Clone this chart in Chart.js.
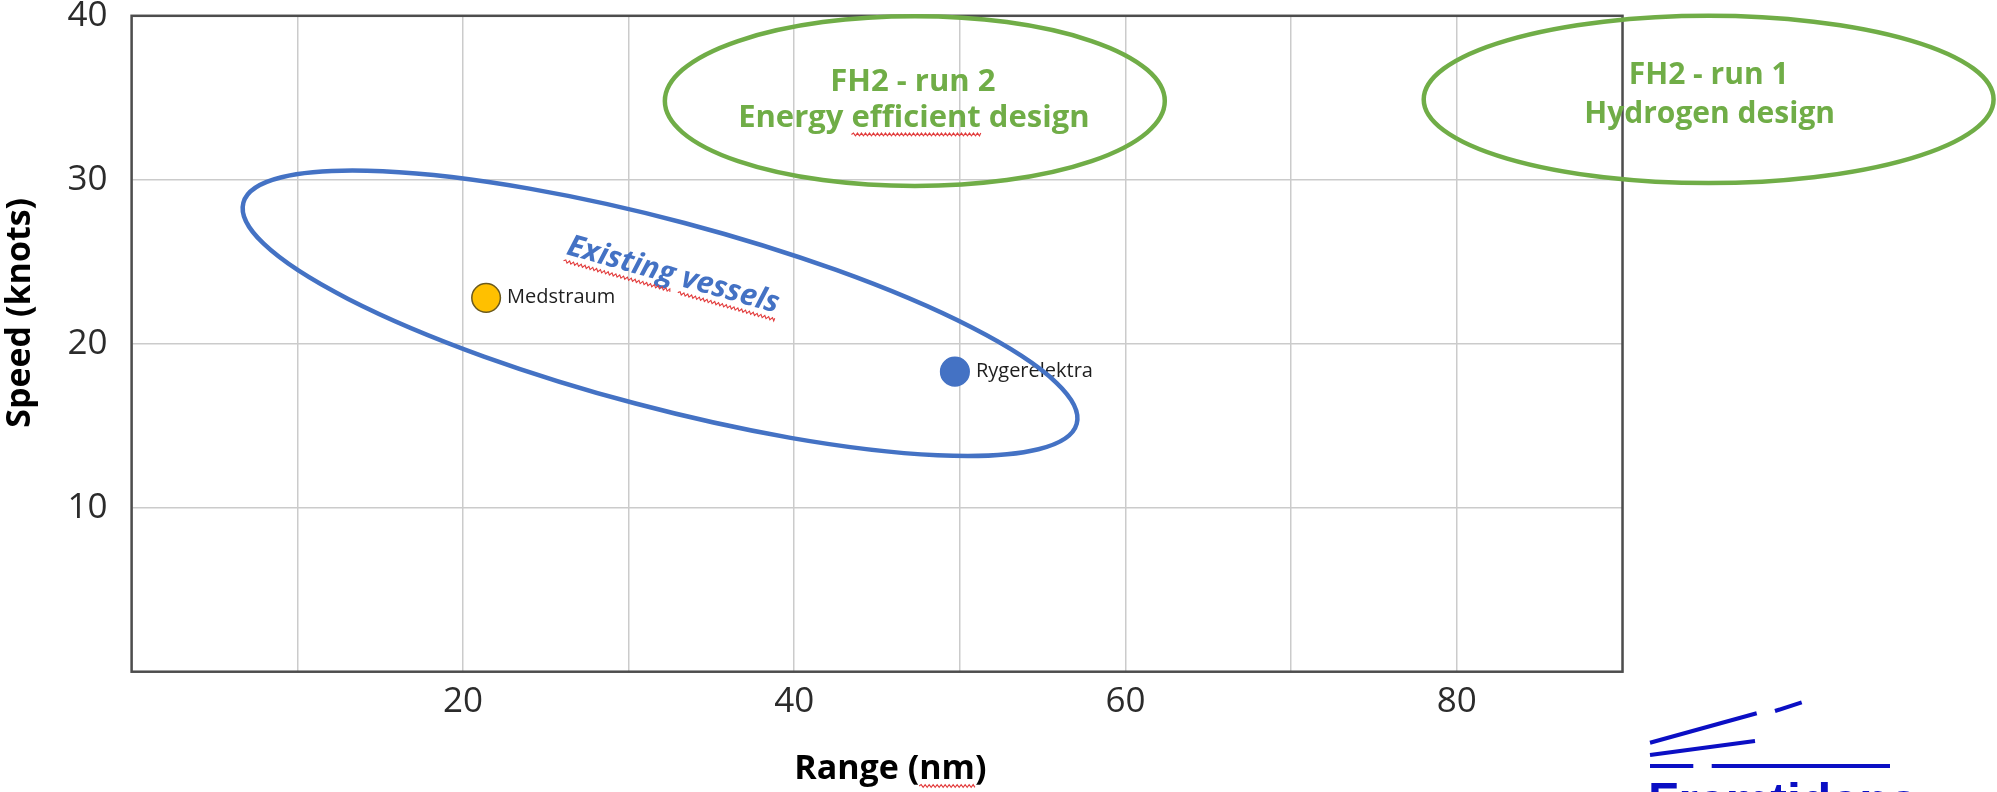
<!DOCTYPE html>
<html>
<head>
<meta charset="utf-8">
<script src="https://cdn.jsdelivr.net/npm/chart.js@4.4.1/dist/chart.umd.min.js"></script>
<style>
  html, body { margin: 0; padding: 0; background: #ffffff; overflow: hidden; }
  #wrap { position: relative; width: 1997px; height: 792px; }
  #logo { position: absolute; left: 0; top: 0; pointer-events: none; }
</style>
</head>
<body>
<div id="wrap">
  <canvas id="chart" width="1997" height="792"></canvas>
  <svg id="logo" width="1997" height="792" xmlns="http://www.w3.org/2000/svg">
    <g stroke="#0b0fc4" stroke-width="4" stroke-linecap="butt">
      <line x1="1650" y1="742.7" x2="1756.7" y2="713.3"/>
      <line x1="1775" y1="711" x2="1801.7" y2="702.3"/>
      <line x1="1650" y1="755" x2="1755" y2="741"/>
      <line x1="1650" y1="766" x2="1693.3" y2="766"/>
      <line x1="1711.7" y1="766" x2="1890" y2="766"/>
    </g>
    <text x="1648" y="818" fill="#0b0fc4" font-family="Liberation Sans, Arial, sans-serif" font-weight="bold" font-size="50">Fremtidens</text>
  </svg>
</div>
<script>
// ---------------- data ----------------
const vesselNames = ['Medstraum', 'Rygerelektra'];
const rangeNm = [21.4, 49.7];
const speedKnots = [22.8, 18.3];

const xTickLabels = ['20', '40', '60', '80'];
const yTickLabels = ['10', '20', '30', '40'];
const xAxisTitle = 'Range (nm)';
const yAxisTitle = 'Speed (knots)';

// highlighted regions (ellipses in data units: range nm / speed knots)
const regionCenterRange = [31.9, 47.28, 95.2];
const regionCenterSpeed = [21.86, 34.8, 34.9];
const regionHalfRange = [26.04, 15.09, 17.2];
const regionHalfSpeed = [5.70, 5.18, 5.1];
const regionTilt = [-15, 0, 0];
const regionLines = [
  ['Existing vessels'],
  ['FH2 - run 2', 'Energy efficient design'],
  ['FH2 - run 1', 'Hydrogen design']
];
const regionLineRange = [[32.55], [47.16, 47.22], [95.2, 95.26]];
const regionLineSpeed = [[23.68], [35.4, 33.19], [35.85, 33.44]];

// ---------------- styles ----------------
const vesselColors = ['#FFC000', '#4472C4'];
const vesselBorderColors = ['#6B5A1E', '#4472C4'];
const regionStyles = [
  { stroke: '#4472C4', color: '#4472C4', font: 'italic bold 30px "Open Sans"', textRot: -15.6, wavy: ['Existing', 'vessels'] },
  { stroke: '#70AD47', color: '#70AD47', font: 'bold 31px "Open Sans"', textRot: 0, wavy: ['efficient'] },
  { stroke: '#70AD47', color: '#70AD47', font: 'bold 30px "Open Sans"', textRot: 0, wavy: [] }
];
const SPELL_RED = '#e23b3b';

function wavy(ctx, x0, x1, y) {
  ctx.save();
  ctx.strokeStyle = SPELL_RED;
  ctx.lineWidth = 1.1;
  ctx.beginPath();
  ctx.moveTo(x0, y);
  let up = true;
  for (let x = x0; x < x1; x += 2) {
    ctx.lineTo(Math.min(x + 2, x1), y + (up ? -1.4 : 1.4));
    up = !up;
  }
  ctx.stroke();
  ctx.restore();
}

const framePlugin = {
  id: 'frame',
  beforeDatasetsDraw(chart) {
    const { ctx, chartArea: a } = chart;
    ctx.save();
    ctx.strokeStyle = '#4d4d4d';
    ctx.lineWidth = 2.5;
    ctx.strokeRect(a.left, a.top, a.right - a.left, a.bottom - a.top);
    ctx.restore();
  }
};

const pointLabelPlugin = {
  id: 'pointLabels',
  afterDatasetsDraw(chart) {
    const { ctx } = chart;
    const meta = chart.getDatasetMeta(0);
    ctx.save();
    ctx.font = '20px "Open Sans"';
    ctx.fillStyle = '#1e1e1e';
    ctx.textAlign = 'left';
    ctx.textBaseline = 'middle';
    meta.data.forEach((pt, i) => {
      ctx.fillText(vesselNames[i], pt.x + 21, pt.y - 0.5);
    });
    ctx.restore();
  }
};

const regionPlugin = {
  id: 'regions',
  afterDraw(chart) {
    const { ctx, scales: { x, y } } = chart;
    const sx = x.getPixelForValue(1) - x.getPixelForValue(0);
    const sy = y.getPixelForValue(0) - y.getPixelForValue(1);
    regionCenterRange.forEach((cr, i) => {
      const st = regionStyles[i];
      // ellipse outline
      ctx.save();
      ctx.translate(x.getPixelForValue(cr), y.getPixelForValue(regionCenterSpeed[i]));
      ctx.scale(sx, -sy);
      ctx.rotate(regionTilt[i] * Math.PI / 180);
      ctx.beginPath();
      ctx.ellipse(0, 0, regionHalfRange[i], regionHalfSpeed[i], 0, 0, Math.PI * 2);
      ctx.restore();
      ctx.save();
      ctx.strokeStyle = st.stroke;
      ctx.lineWidth = 4.5;
      ctx.stroke();
      ctx.restore();
      // texts
      regionLines[i].forEach((line, j) => {
        const px = x.getPixelForValue(regionLineRange[i][j]);
        const py = y.getPixelForValue(regionLineSpeed[i][j]);
        ctx.save();
        ctx.translate(px, py);
        ctx.rotate(-st.textRot * Math.PI / 180);
        ctx.font = st.font;
        ctx.fillStyle = st.color;
        ctx.textAlign = 'center';
        ctx.textBaseline = 'alphabetic';
        ctx.fillText(line, 0, 0);
        const w = ctx.measureText(line).width;
        st.wavy.forEach(word => {
          const k = line.indexOf(word);
          if (k < 0) return;
          const s = -w / 2 + ctx.measureText(line.slice(0, k)).width;
          const e = s + ctx.measureText(word).width;
          wavy(ctx, s, e, 7);
        });
        ctx.restore();
      });
    });
    // spell-check mark under "nm" of the x axis title
    const t = x.options.title;
    ctx.save();
    ctx.font = 'bold 34px "Open Sans"';
    const full = t.text;
    const fw = ctx.measureText(full).width;
    const cx = (x.left + x.right) / 2;
    const k = full.indexOf('nm');
    const s = cx - fw / 2 + ctx.measureText(full.slice(0, k)).width;
    const e = s + ctx.measureText('nm').width;
    ctx.restore();
    wavy(ctx, s, e, 786);
  }
};

const tickFont = { family: 'Open Sans', size: 35 };
const titleFont = { family: 'Open Sans', size: 34, weight: 'bold' };
const NBSP = '\u00a0';

new Chart(document.getElementById('chart'), {
  type: 'scatter',
  data: {
    datasets: [{
      data: rangeNm.map((r, i) => ({ x: r, y: speedKnots[i] })),
      backgroundColor: vesselColors,
      borderColor: vesselBorderColors,
      pointBackgroundColor: vesselColors,
      pointBorderColor: vesselBorderColors,
      pointRadius: 14.3,
      pointHoverRadius: 14.3,
      pointBorderWidth: 1.5,
      showLine: false
    }]
  },
  options: {
    responsive: false,
    devicePixelRatio: 1,
    animation: false,
    events: [],
    layout: { padding: { left: 0, top: 11.7, right: 374.5, bottom: 0 } },
    plugins: { legend: { display: false }, tooltip: { enabled: false } },
    scales: {
      x: {
        type: 'linear',
        min: 0, max: 90,
        afterFit: s => { s.height = 120.3; s.paddingLeft = 0; s.paddingRight = 0; },
        border: { display: false },
        grid: { color: '#cbcbcb', lineWidth: 1.5, drawTicks: false },
        ticks: {
          stepSize: 10, autoSkip: false, maxRotation: 0, padding: 9,
          font: tickFont, color: '#2b2b2b',
          callback: v => xTickLabels.includes(String(v)) ? String(v) : ''
        },
        title: {
          display: true, text: NBSP.repeat(3) + xAxisTitle, color: '#000000',
          font: titleFont, padding: { top: 0, bottom: 2 }
        }
      },
      y: {
        type: 'linear',
        min: 0, max: 40,
        afterFit: s => { s.width = 131.6; s.paddingTop = 0; s.paddingBottom = 0; },
        border: { display: false },
        grid: { color: '#cbcbcb', lineWidth: 1.5, drawTicks: false },
        ticks: {
          stepSize: 10, autoSkip: false, padding: 24,
          font: { family: 'Open Sans', size: 35, lineHeight: 0.6 }, color: '#2b2b2b',
          callback: v => yTickLabels.includes(String(v)) ? String(v) : ''
        },
        title: {
          display: true, text: NBSP.repeat(7) + yAxisTitle, color: '#000000',
          font: titleFont, padding: { top: 0, bottom: 0 }
        }
      }
    }
  },
  plugins: [framePlugin, pointLabelPlugin, regionPlugin]
});
</script>
</body>
</html>
